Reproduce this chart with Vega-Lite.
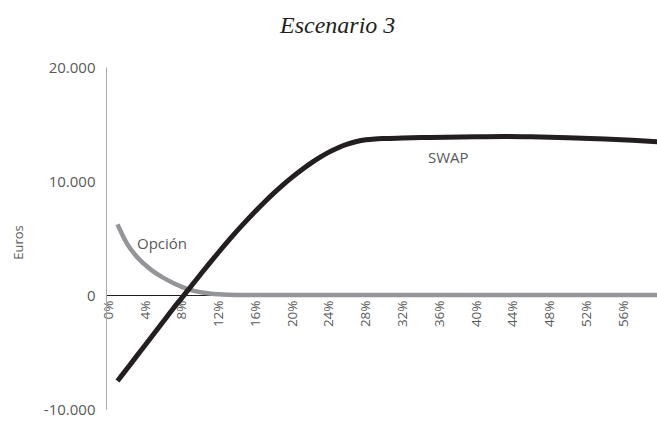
{
  "$schema": "https://vega.github.io/schema/vega-lite/v6.json",
  "autosize": {"type": "none"},
  "padding": {"left": 106, "top": 67, "right": 0, "bottom": 12},
  "width": 551,
  "height": 342,
  "config": {
    "locale": {"number": {"decimal": ",", "thousands": ".", "grouping": [3], "currency": ["", " €"], "minus": "-"}},
    "view": {"stroke": null},
    "font": "Open Sans"
  },
  "title": {
    "text": "Escenario 3",
    "font": "Liberation Serif",
    "fontStyle": "italic",
    "fontWeight": "normal",
    "fontSize": 24,
    "color": "#231f20",
    "anchor": "start",
    "frame": "group",
    "dx": 174,
    "offset": 22
  },
  "datasets": {
    "swap": [
      {"tasa": 0.01, "euros": -7550}, {"tasa": 0.02, "euros": -6500}, {"tasa": 0.03, "euros": -5450},
      {"tasa": 0.04, "euros": -4400}, {"tasa": 0.05, "euros": -3350}, {"tasa": 0.06, "euros": -2300},
      {"tasa": 0.07, "euros": -1250}, {"tasa": 0.08, "euros": -250}, {"tasa": 0.09, "euros": 770},
      {"tasa": 0.10, "euros": 1780}, {"tasa": 0.11, "euros": 2780}, {"tasa": 0.12, "euros": 3750},
      {"tasa": 0.13, "euros": 4700}, {"tasa": 0.14, "euros": 5620}, {"tasa": 0.15, "euros": 6500},
      {"tasa": 0.16, "euros": 7350}, {"tasa": 0.17, "euros": 8160}, {"tasa": 0.18, "euros": 8930},
      {"tasa": 0.19, "euros": 9660}, {"tasa": 0.20, "euros": 10340}, {"tasa": 0.21, "euros": 10970},
      {"tasa": 0.22, "euros": 11550}, {"tasa": 0.23, "euros": 12070}, {"tasa": 0.24, "euros": 12530},
      {"tasa": 0.25, "euros": 12920}, {"tasa": 0.26, "euros": 13230}, {"tasa": 0.27, "euros": 13460},
      {"tasa": 0.28, "euros": 13610}, {"tasa": 0.29, "euros": 13690}, {"tasa": 0.30, "euros": 13730},
      {"tasa": 0.32, "euros": 13770}, {"tasa": 0.35, "euros": 13820}, {"tasa": 0.40, "euros": 13880},
      {"tasa": 0.43, "euros": 13900}, {"tasa": 0.46, "euros": 13880}, {"tasa": 0.50, "euros": 13800},
      {"tasa": 0.54, "euros": 13680}, {"tasa": 0.57, "euros": 13570}, {"tasa": 0.60, "euros": 13420}
    ],
    "opcion": [
      {"tasa": 0.01, "euros": 6200}, {"tasa": 0.02, "euros": 4550}, {"tasa": 0.03, "euros": 3450},
      {"tasa": 0.04, "euros": 2650}, {"tasa": 0.05, "euros": 2000}, {"tasa": 0.06, "euros": 1500},
      {"tasa": 0.07, "euros": 1080}, {"tasa": 0.08, "euros": 720}, {"tasa": 0.09, "euros": 430},
      {"tasa": 0.10, "euros": 250}, {"tasa": 0.11, "euros": 140}, {"tasa": 0.12, "euros": 70},
      {"tasa": 0.13, "euros": 30}, {"tasa": 0.14, "euros": 10}, {"tasa": 0.15, "euros": 0},
      {"tasa": 0.20, "euros": 0}, {"tasa": 0.30, "euros": 0}, {"tasa": 0.40, "euros": 0},
      {"tasa": 0.50, "euros": 0}, {"tasa": 0.60, "euros": 0}
    ],
    "etiquetas": [
      {"tasa": 0.0312, "euros": 4470, "texto": "Opción"},
      {"tasa": 0.3477, "euros": 12020, "texto": "SWAP"}
    ]
  },
  "encoding": {
    "x": {
      "field": "tasa",
      "type": "quantitative",
      "scale": {"domain": [-0.0025, 0.5967], "nice": false, "zero": false},
      "axis": {
        "title": null,
        "values": [0, 0.04, 0.08, 0.12, 0.16, 0.2, 0.24, 0.28, 0.32, 0.36, 0.4, 0.44, 0.48, 0.52, 0.56],
        "format": ".0%",
        "labelAngle": -90,
        "labelPadding": 5,
        "labelFontSize": 13.5,
        "labelColor": "#58595b",
        "labelFont": "Open Sans",
        "ticks": false,
        "tickSize": 0,
        "grid": false,
        "offset": -114,
        "domainColor": "#231f20",
        "domainWidth": 1
      }
    },
    "y": {
      "field": "euros",
      "type": "quantitative",
      "scale": {"domain": [-10000, 20000], "nice": false},
      "axis": {
        "title": "Euros",
        "titleFont": "Open Sans",
        "titleFontWeight": "normal",
        "titleFontSize": 13,
        "titleColor": "#58595b",
        "titleAngle": -90,
        "titleX": -88,
        "titleY": 175,
        "titleAlign": "center",
        "titleBaseline": "middle",
        "values": [-10000, 0, 10000, 20000],
        "format": ",.0f",
        "labelFontSize": 15,
        "labelColor": "#58595b",
        "labelFont": "Open Sans",
        "labelPadding": 11,
        "ticks": false,
        "tickSize": 0,
        "grid": false,
        "domainColor": "#a7a9ac",
        "domainWidth": 1
      }
    }
  },
  "layer": [
    {
      "data": {"name": "opcion"},
      "mark": {"type": "line", "color": "#939598", "strokeWidth": 4.5, "strokeCap": "butt", "interpolate": "monotone", "clip": true}
    },
    {
      "data": {"name": "swap"},
      "mark": {"type": "line", "color": "#231f20", "strokeWidth": 5, "strokeCap": "butt", "interpolate": "monotone", "clip": true}
    },
    {
      "data": {"name": "etiquetas"},
      "mark": {"type": "text", "align": "left", "baseline": "middle", "fontSize": 15, "font": "Open Sans", "color": "#58595b"},
      "encoding": {"text": {"field": "texto", "type": "nominal"}}
    }
  ]
}
